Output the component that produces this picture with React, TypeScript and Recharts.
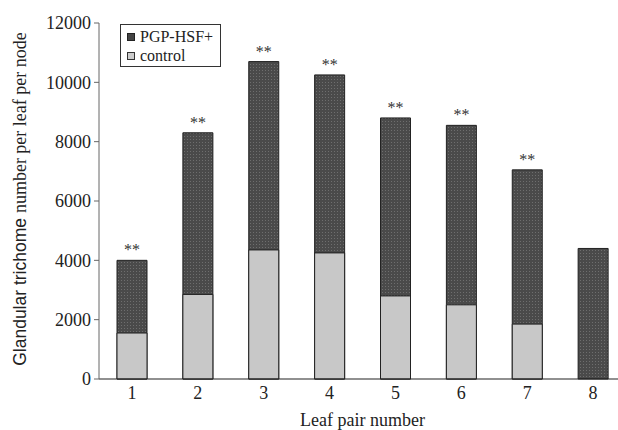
import React from 'react';
import { BarChart, Bar, XAxis, YAxis, LabelList } from 'recharts';

const leafPairs = ['1', '2', '3', '4', '5', '6', '7', '8'];
const pgpValues = [4000, 8300, 10700, 10250, 8800, 8550, 7050, 4400];
const controlValues = [1550, 2850, 4350, 4250, 2800, 2500, 1850, 0];
const significance = ['**', '**', '**', '**', '**', '**', '**', ''];
const yTicks = [0, 2000, 4000, 6000, 8000, 10000, 12000];
// small marks between the leaf pairs on the x axis
const betweenTicks = [1.5, 2.5, 3.5, 4.5, 5.5, 6.5, 7.5];

const FONT = '"Liberation Serif", "DejaVu Serif", serif';
const SANS = '"Liberation Sans", Arial, sans-serif';
const tickStyle = { fontFamily: FONT, fontSize: 18 };

const data = leafPairs.map((name, i) => ({
  name,
  pgp: pgpValues[i],
  control: controlValues[i],
  sig: significance[i],
}));

// "**" over each bar
const Stars = (props: any) => {
  const { x, y, width, value } = props;
  if (!value) return null;
  return (
    <text x={x + width / 2} y={y - 5} textAnchor="middle" fill="#333" stroke="none" style={{ fontFamily: FONT, fontSize: 16 }}>
      {value}
    </text>
  );
};

// y label: first half is set in a sans face in the original figure
const YLabel = () => (
  <text
    x={20}
    y={199}
    transform="rotate(-90 20 199)"
    textAnchor="middle"
    dominantBaseline="central"
    fill="#222"
    style={{ fontSize: 18 }}
  >
    <tspan style={{ fontFamily: SANS, fontSize: 17.5 }}>Glandular trichome </tspan>
    <tspan style={{ fontFamily: FONT }}>number per leaf per node</tspan>
  </text>
);

const LegendBox = () => (
  <div
    style={{
      position: 'absolute',
      left: 120,
      top: 24,
      width: 101,
      height: 43,
      border: '1px solid #333',
      background: '#fff',
      padding: '2px 6px',
      fontFamily: FONT,
      fontSize: 16,
      lineHeight: '19px',
      color: '#222',
      boxSizing: 'border-box',
    }}
  >
    <div style={{ display: 'flex', alignItems: 'center' }}>
      <span style={{ width: 6, height: 6, background: '#444', border: '1px solid #222', marginRight: 5 }} />
      PGP-HSF+
    </div>
    <div style={{ display: 'flex', alignItems: 'center' }}>
      <span style={{ width: 6, height: 6, background: '#ccc', border: '1px solid #333', marginRight: 5 }} />
      control
    </div>
  </div>
);

export default function App() {
  return (
    <div
      style={{
        position: 'absolute',
        left: 0,
        top: 0,
        width: 618,
        height: 430,
        overflow: 'hidden',
        background: '#fff',
        fontFamily: FONT,
      }}
    >
      <BarChart
        width={626}
        height={430}
        data={data}
        margin={{ top: 23, right: 0, left: 0, bottom: 0 }}
        barSize={30}
        barGap={-30}
      >
        <defs>
          <pattern id="stipple" width="3" height="3" patternUnits="userSpaceOnUse">
            <rect width="3" height="3" fill="#4a4a4a" />
            <rect x="1" y="1" width="1" height="1" fill="#6e6e6e" />
          </pattern>
        </defs>
        <XAxis
          xAxisId="marks"
          type="number"
          domain={[0.5, 8.5]}
          ticks={betweenTicks}
          height={0}
          axisLine={false}
          tick={false}
          tickSize={3}
          tickLine={{ stroke: '#444' }}
        />
        <XAxis
          xAxisId="main"
          dataKey="name"
          height={51}
          tickLine={false}
          tickSize={0}
          tickMargin={7}
          axisLine={{ stroke: '#222', strokeWidth: 1.2 }}
          tick={{ fill: '#222', style: tickStyle, fontSize: 18 }}
          label={{ value: 'Leaf pair number', position: 'insideBottom', offset: 4, fill: '#222', style: tickStyle, fontSize: 18 }}
        />
        <YAxis
          width={99}
          domain={[0, 12000]}
          ticks={yTicks}
          interval={0}
          tickSize={5}
          tickMargin={3}
          axisLine={{ stroke: '#666' }}
          tickLine={{ stroke: '#666' }}
          tick={{ fill: '#222', style: tickStyle, fontSize: 18 }}
          label={<YLabel />}
        />
        <Bar xAxisId="main" dataKey="pgp" name="PGP-HSF+" fill="url(#stipple)" stroke="#222" strokeWidth={1} isAnimationActive={false}>
          <LabelList dataKey="sig" content={<Stars />} />
        </Bar>
        <Bar xAxisId="main" dataKey="control" name="control" fill="#c8c8c8" stroke="#222" strokeWidth={1} isAnimationActive={false} />
      </BarChart>
      <LegendBox />
    </div>
  );
}
